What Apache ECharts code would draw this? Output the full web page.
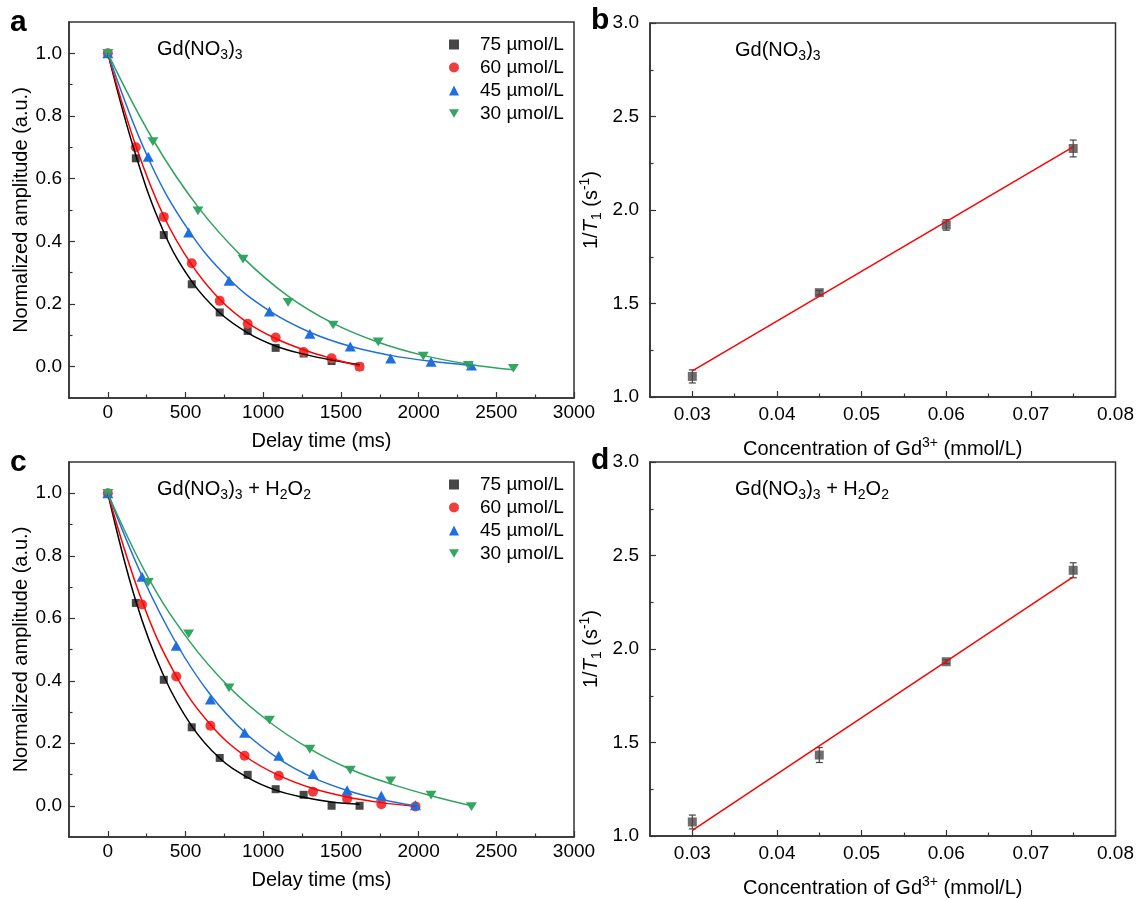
<!DOCTYPE html>
<html><head><meta charset="utf-8">
<script src="https://cdn.jsdelivr.net/npm/echarts@6/dist/echarts.min.js"></script>
<style>html,body{margin:0;padding:0;background:#fff}#c{width:1137px;height:899px}</style>
</head><body><div id="c"></div><script>
// ---------- DATA ----------
// Panel a : Gd(NO3)3, delay time (ms) vs normalized amplitude (measured points)
const aTime75 = [0,180,360,540,720,900,1080,1260,1440,1620];
const aAmp75  = [1.0,0.665,0.42,0.263,0.173,0.114,0.06,0.042,0.018,0.0];
const aTime60 = [0,180,360,540,720,900,1080,1260,1440,1620];
const aAmp60  = [1.0,0.70,0.478,0.33,0.21,0.137,0.093,0.047,0.027,0.0];
const aTime45 = [0,260,520,780,1040,1300,1560,1820,2080,2340];
const aAmp45  = [1.0,0.67,0.428,0.274,0.176,0.105,0.064,0.026,0.016,0.004];
const aTime30 = [0,290,580,870,1160,1450,1740,2030,2320,2610];
const aAmp30  = [1.0,0.718,0.497,0.343,0.205,0.133,0.079,0.034,0.004,-0.005];
// Panel a : fitted curves at the same delay times
const aFit75  = [1.0,0.675,0.43,0.272,0.172,0.108,0.066,0.04,0.021,0.006];
const aFit60  = [1.0,0.705,0.48,0.325,0.215,0.14,0.09,0.054,0.026,0.002];
const aFit45  = [1.0,0.665,0.435,0.28,0.178,0.11,0.065,0.036,0.017,0.004];
const aFit30  = [1.0,0.725,0.51,0.348,0.225,0.138,0.078,0.036,0.008,-0.01];
// Panel c : Gd(NO3)3 + H2O2 (measured points)
const cTime75 = [0,180,360,540,720,900,1080,1260,1440,1620];
const cAmp75  = [1.0,0.649,0.403,0.251,0.153,0.099,0.053,0.035,0.0,0.0];
const cTime60 = [0,220,440,660,880,1100,1320,1540,1760,1980];
const cAmp60  = [1.0,0.644,0.414,0.256,0.16,0.096,0.045,0.022,0.005,-0.002];
const cTime45 = [0,220,440,660,880,1100,1320,1540,1760,1980];
const cAmp45  = [1.0,0.733,0.512,0.34,0.234,0.16,0.102,0.05,0.032,0.002];
const cTime30 = [0,260,520,780,1040,1300,1560,1820,2080,2340];
const cAmp30  = [1.0,0.715,0.55,0.377,0.274,0.181,0.114,0.08,0.034,-0.003];
// Panel c : fitted curves
const cFit75  = [1.0,0.655,0.415,0.255,0.152,0.09,0.05,0.027,0.012,0.005];
const cFit60  = [1.0,0.655,0.415,0.26,0.16,0.097,0.055,0.028,0.01,-0.002];
const cFit45  = [1.0,0.735,0.52,0.355,0.235,0.15,0.09,0.049,0.02,0.0];
const cFit30  = [1.0,0.73,0.53,0.38,0.268,0.182,0.117,0.07,0.032,0.0];
// Panels b, d : relaxation rate vs concentration
const conc   = [0.03,0.045,0.06,0.075];
const rateB  = [1.11,1.558,1.92,2.329];
const errB   = [0.035,0.012,0.028,0.045];
const fitBx  = [0.03,0.075];
const fitBy  = [1.14,2.338];
const rateD  = [1.075,1.433,1.932,2.421];
const errD   = [0.037,0.04,0.01,0.04];
const fitDx  = [0.03,0.075];
const fitDy  = [1.03,2.386];
// Series names & ticks
const seriesNames = ['75 µmol/L','60 µmol/L','45 µmol/L','30 µmol/L'];
const timeMajor = [0,500,1000,1500,2000,2500,3000];
const timeMinor = [250,750,1250,1750,2250,2750];
const ampMajor  = [0,0.2,0.4,0.6,0.8,1.0];
const ampMinor  = [0.1,0.3,0.5,0.7,0.9];
const concMajor = [0.03,0.04,0.05,0.06,0.07,0.08];
const concMinor = [0.035,0.045,0.055,0.065,0.075];
const rateMajor = [1.0,1.5,2.0,2.5,3.0];
const rateMinor = [1.25,1.75,2.25,2.75];

// ---------- STYLE ----------
const FONT = 'Arial, "Liberation Sans", Helvetica, sans-serif';
const AX = '#333';
const DOWN = 'path://M0,0L2,0L1,1.732Z';
const symbols = ['rect','circle','triangle',DOWN];
const symSizes = [8,10,[11,10],[11,10]];
const mkColors = ['#474747','#f03c3c','#1f6fe0','#34a661'];
const lnColors = ['#000000','#ff0000','#1f6fd9','#2ea35f'];

const zip = (xs, ys) => xs.map((x,i)=>[x, ys[i]]);

const rich = {
  n:{fontSize:20,fontFamily:FONT,color:'#000'},
  s:{fontSize:14,fontFamily:FONT,color:'#000',padding:[12,0,0,0]},
  u:{fontSize:14,fontFamily:FONT,color:'#000',padding:[0,0,12,0]},
  i:{fontSize:20,fontFamily:FONT,color:'#000',fontStyle:'italic'}
};

function majorAxis(dim, g, min, max, itv, ticks, dec, margin, name, gap) {
  return {
    type:'value', gridIndex:g, position: dim==='x'?'bottom':'left',
    min, max, interval:itv,
    axisLine:{show:true,onZero:false,lineStyle:{color:AX,width:1.5}},
    axisTick:{show:true,inside:true,length:6,customValues:ticks,lineStyle:{color:AX,width:1.2}},
    axisLabel:{customValues:ticks,formatter:v=>Number(v).toFixed(dec),margin,color:'#000',fontSize:19,fontFamily:FONT},
    splitLine:{show:false},
    name, nameLocation:'middle', nameGap:gap,
    nameTextStyle:{fontSize:20,fontFamily:FONT,color:'#000',rich}
  };
}
function minorAxis(dim, g, min, max, itv, ticks) {
  return {
    type:'value', gridIndex:g, position: dim==='x'?'bottom':'left',
    min, max, interval:itv,
    axisLine:{show:false,onZero:false},
    axisTick:{show:true,inside:true,length:3.5,customValues:ticks,lineStyle:{color:AX,width:1.2}},
    axisLabel:{show:false}, splitLine:{show:false}
  };
}

const gridBase = {show:true,borderColor:AX,borderWidth:1.5,backgroundColor:'transparent',containLabel:false};
const grids = [
  Object.assign({left:69,top:22,width:505,height:376},gridBase),
  Object.assign({left:650,top:23,width:466,height:374},gridBase),
  Object.assign({left:69,top:462,width:505,height:375},gridBase),
  Object.assign({left:650,top:462,width:466,height:375},gridBase)
];

const ampName = 'Normalized amplitude (a.u.)';
const timeName = 'Delay time (ms)';
const rateName = '1/{i|T}{s|1} (s{u|-1})';
const concName = 'Concentration of Gd{u|3+} (mmol/L)';

const xAxes = [
  majorAxis('x',0,-250,3000,250,timeMajor,0,5,timeName,33),
  minorAxis('x',0,-250,3000,250,timeMinor),
  majorAxis('x',1,0.025,0.08,0.005,concMajor,2,8,concName,39),
  minorAxis('x',1,0.025,0.08,0.005,concMinor),
  majorAxis('x',2,-250,3000,250,timeMajor,0,5,timeName,33),
  minorAxis('x',2,-250,3000,250,timeMinor),
  majorAxis('x',3,0.025,0.08,0.005,concMajor,2,8,concName,39),
  minorAxis('x',3,0.025,0.08,0.005,concMinor)
];
const yAxes = [
  majorAxis('y',0,-0.1,1.1,0.1,ampMajor,1,7,ampName,36),
  minorAxis('y',0,-0.1,1.1,0.1,ampMinor),
  majorAxis('y',1,1.0,3.0,0.25,rateMajor,1,11,rateName,46),
  minorAxis('y',1,1.0,3.0,0.25,rateMinor),
  majorAxis('y',2,-0.1,1.1,0.1,ampMajor,1,7,ampName,36),
  minorAxis('y',2,-0.1,1.1,0.1,ampMinor),
  majorAxis('y',3,1.0,3.0,0.25,rateMajor,1,11,rateName,46),
  minorAxis('y',3,1.0,3.0,0.25,rateMinor)
];

const series = [];
function addDecay(axisIdx, times, amps, fits) {
  times.forEach((t,k)=>{
    series.push({type:'scatter',name:seriesNames[k],xAxisIndex:axisIdx,yAxisIndex:axisIdx,data:zip(t, amps[k]),
      symbol:symbols[k],symbolSize:symSizes[k],symbolKeepAspect:true,itemStyle:{color:mkColors[k],opacity:1},z:3,silent:true});
    series.push({type:'line',xAxisIndex:axisIdx,yAxisIndex:axisIdx,data:zip(t, fits[k]),showSymbol:false,symbol:'none',
      smooth:0.4,lineStyle:{color:lnColors[k],width:1.5},z:4,silent:true});
  });
}
addDecay(0,[aTime75,aTime60,aTime45,aTime30],[aAmp75,aAmp60,aAmp45,aAmp30],[aFit75,aFit60,aFit45,aFit30]);
addDecay(4,[cTime75,cTime60,cTime45,cTime30],[cAmp75,cAmp60,cAmp45,cAmp30],[cFit75,cFit60,cFit45,cFit30]);

function errRender(params, api){
  const x=api.value(0), y=api.value(1), e=api.value(2);
  const p1=api.coord([x,y+e]), p2=api.coord([x,y-e]);
  const st={stroke:'#444',lineWidth:1.2};
  return {type:'group',children:[
    {type:'line',shape:{x1:p1[0],y1:p1[1],x2:p2[0],y2:p2[1]},style:st},
    {type:'line',shape:{x1:p1[0]-3.5,y1:p1[1],x2:p1[0]+3.5,y2:p1[1]},style:st},
    {type:'line',shape:{x1:p2[0]-3.5,y1:p2[1],x2:p2[0]+3.5,y2:p2[1]},style:st}
  ]};
}
function addRate(axisIdx, rate, err, fx, fy){
  series.push({type:'custom',xAxisIndex:axisIdx,yAxisIndex:axisIdx,renderItem:errRender,
    data:conc.map((c,i)=>[c,rate[i],err[i]]),z:2,silent:true});
  series.push({type:'scatter',xAxisIndex:axisIdx,yAxisIndex:axisIdx,data:zip(conc,rate),symbol:'rect',symbolSize:9,
    itemStyle:{color:'#4a4a4a'},z:3,silent:true});
  series.push({type:'line',xAxisIndex:axisIdx,yAxisIndex:axisIdx,data:zip(fx,fy),showSymbol:false,symbol:'none',
    lineStyle:{color:'#ff0000',width:1.5},z:4,silent:true});
}
addRate(2,rateB,errB,fitBx,fitBy);
addRate(6,rateD,errD,fitDx,fitDy);

const legendData = seriesNames.map((n,k)=>({name:n,icon:symbols[k]}));
function legendAt(top){
  return {left:449,top,orient:'vertical',padding:0,itemWidth:10,itemHeight:10,itemGap:4,
    data:legendData,selectedMode:false,
    formatter:n=>'{g|}'+n,
    textStyle:{fontSize:19,fontFamily:FONT,color:'#000',lineHeight:19,rich:{g:{width:16}}}};
}

const titleText = (t,left,top,bold)=>({text:t,left,top,padding:0,
  textStyle:{fontSize:bold?30:20,fontWeight:bold?'bold':'normal',fontFamily:FONT,color:'#000',rich}});

const option = {
  animation:false,
  backgroundColor:'#fff',
  grid:grids, xAxis:xAxes, yAxis:yAxes, series,
  legend:[legendAt(35),legendAt(475)],
  title:[
    titleText('a',10,8,true), titleText('b',591,6,true),
    titleText('c',10,448,true), titleText('d',591,446,true),
    titleText('{n|Gd(NO}{s|3}{n|)}{s|3}',157,36,false),
    titleText('{n|Gd(NO}{s|3}{n|)}{s|3}',735,37,false),
    titleText('{n|Gd(NO}{s|3}{n|)}{s|3}{n| + H}{s|2}{n|O}{s|2}',157,476,false),
    titleText('{n|Gd(NO}{s|3}{n|)}{s|3}{n| + H}{s|2}{n|O}{s|2}',735,476,false)
  ]
};
const chart = echarts.init(document.getElementById('c'),null,{renderer:'canvas'});
chart.setOption(option);
</script></body></html>
